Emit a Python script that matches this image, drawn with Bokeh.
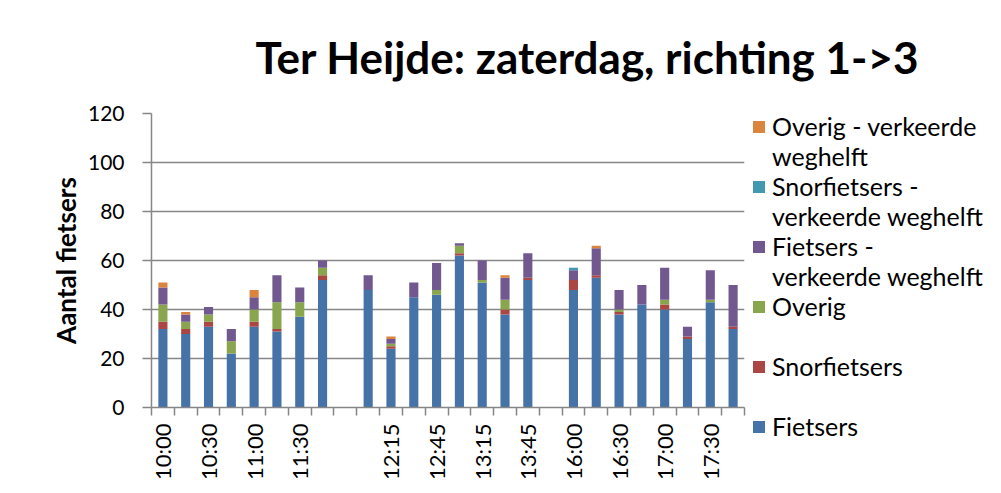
import numpy as np
from bokeh.plotting import figure
from bokeh.models import Range1d, FixedTicker, Legend, LegendItem, ColumnDataSource
from bokeh.embed import file_html
from bokeh.resources import INLINE

# ---------------- data ----------------
categories = ["10:00", "10:15", "10:30", "10:45", "11:00", "11:15", "11:30", "11:45", " ",
              "12:00", "12:15", "12:30", "12:45", "13:00", "13:15", "13:30", "13:45", "  ",
              "16:00", "16:15", "16:30", "16:45", "17:00", "17:15", "17:30", "17:45"]

fietsers      = [32, 30, 33, 22, 33, 31, 37, 52, 0, 48, 24, 45, 46, 62, 51, 38, 52, 0, 48, 53, 38, 42, 40, 28, 43, 32]
snorfietsers  = [3, 2, 2, 0, 2, 1, 0, 2, 0, 0, 1, 0, 0, 1, 0, 2, 1, 0, 4, 1, 1, 0, 2, 1, 0, 1]
overig        = [7, 3, 3, 5, 5, 11, 6, 3, 0, 0, 1, 0, 2, 3, 1, 4, 0, 0, 0, 0, 1, 0, 2, 0, 1, 0]
fietsers_vk   = [7, 3, 3, 5, 5, 11, 6, 3, 0, 6, 2, 6, 11, 1, 8, 9, 10, 0, 4, 11, 8, 8, 13, 4, 12, 17]
snorfietsers_vk = [0, 0, 0, 0, 0, 0, 0, 0, 0, 0, 0, 0, 0, 0, 0, 0, 0, 0, 1, 0, 0, 0, 0, 0, 0, 0]
overig_vk     = [2, 1, 0, 0, 3, 0, 0, 0, 0, 0, 1, 0, 0, 0, 0, 1, 0, 0, 0, 1, 0, 0, 0, 0, 0, 0]

series_names = ["Fietsers", "Snorfietsers", "Overig", "Fietsers - verkeerde weghelft",
                "Snorfietsers - verkeerde weghelft", "Overig - verkeerde weghelft"]
# legend text lines, wrapped as in the reference
legend_lines = [["Fietsers"], ["Snorfietsers", " "], ["Overig", " "],
                ["Fietsers -", "verkeerde weghelft"],
                ["Snorfietsers -", "verkeerde weghelft"],
                ["Overig - verkeerde", "weghelft"]]
series_values = [fietsers, snorfietsers, overig, fietsers_vk, snorfietsers_vk, overig_vk]
colors = ["#4572A7", "#AA4643", "#89A54E", "#71588F", "#4198AF", "#DB843D"]

title_text = "Ter Heijde: zaterdag, richting 1->3"
y_label = "Aantal fietsers"
y_ticks = [0, 20, 40, 60, 80, 100, 120]

# ---------------- figure ----------------
FONT = "Lato"
GRAY = "#868686"
n = len(categories)
xs = np.arange(n) + 0.5

data = {"x": xs}
for name, vals in zip(series_names, series_values):
    data[name] = vals
source = ColumnDataSource(data)

p = figure(frame_width=593, frame_height=294,
           x_range=Range1d(0, n), y_range=Range1d(y_ticks[0], y_ticks[-1]),
           output_backend="svg", toolbar_location=None,
           min_border_left=151, min_border_right=250, min_border_top=113, min_border_bottom=80)
p.outline_line_color = None
p.background_fill_color = "white"

renderers = p.vbar_stack(series_names, x="x", width=0.4, color=colors, line_color=None, source=source)
# invisible renderer used for the continuation lines of wrapped legend entries
blank = p.vbar(x=[], top=[], width=0.4, fill_alpha=0, line_alpha=0)

# x axis
xa = p.xaxis[0]
xa.ticker = FixedTicker(ticks=list(xs[::2]), minor_ticks=list(range(n + 1)))
xa.major_label_overrides = {float(xs[i]): categories[i] for i in range(0, n, 2)}
xa.major_label_orientation = np.pi / 2
xa.major_tick_line_color = None
xa.major_tick_out = 8
xa.major_tick_in = 0
xa.minor_tick_line_color = GRAY
xa.minor_tick_line_width = 1.5
xa.minor_tick_out = 8
xa.minor_tick_in = 0
xa.major_label_standoff = 8
xa.axis_line_color = GRAY
xa.axis_line_width = 1.5
xa.major_label_text_font = FONT
xa.major_label_text_font_size = "22px"
xa.major_label_text_color = "black"

# y axis
ya = p.yaxis[0]
ya.ticker = FixedTicker(ticks=y_ticks, minor_ticks=[])
ya.major_tick_out = 9
ya.major_tick_in = 0
ya.major_tick_line_color = GRAY
ya.major_tick_line_width = 1.5
ya.axis_line_color = GRAY
ya.axis_line_width = 1.5
ya.major_label_standoff = 18
ya.major_label_text_font = FONT
ya.major_label_text_font_size = "21px"
ya.major_label_text_color = "black"
ya.axis_label = y_label
ya.axis_label_text_font = FONT
ya.axis_label_text_font_style = "bold"
ya.axis_label_text_font_size = "26px"
ya.axis_label_text_color = "black"
ya.axis_label_standoff = 3

p.xgrid.visible = False
p.ygrid.grid_line_color = GRAY
p.ygrid.grid_line_width = 1.5

# legend (reversed order, like Excel); one row per text line
items = []
for i in reversed(range(len(series_names))):
    lines = legend_lines[i]
    items.append(LegendItem(label=lines[0], renderers=[renderers[i]]))
    for extra in lines[1:]:
        items.append(LegendItem(label=extra, renderers=[blank]))
legend = Legend(items=items, location=(7, -34), padding=0, margin=0, spacing=0,
                glyph_width=15, glyph_height=15, label_standoff=6, label_height=30,
                label_text_font=FONT, label_text_font_size="25px", label_text_color="black",
                border_line_color=None, background_fill_alpha=0)
p.add_layout(legend, "right")

# title
p.title.text = title_text
p.title.align = "left"
p.title.offset = 104
p.title.standoff = 58
p.title.vertical_align = "top"
p.title.text_font = FONT
p.title.text_font_style = "bold"
p.title.text_font_size = "44px"
p.title.text_color = "black"

open("out.html", "w").write(file_html(p, INLINE))
